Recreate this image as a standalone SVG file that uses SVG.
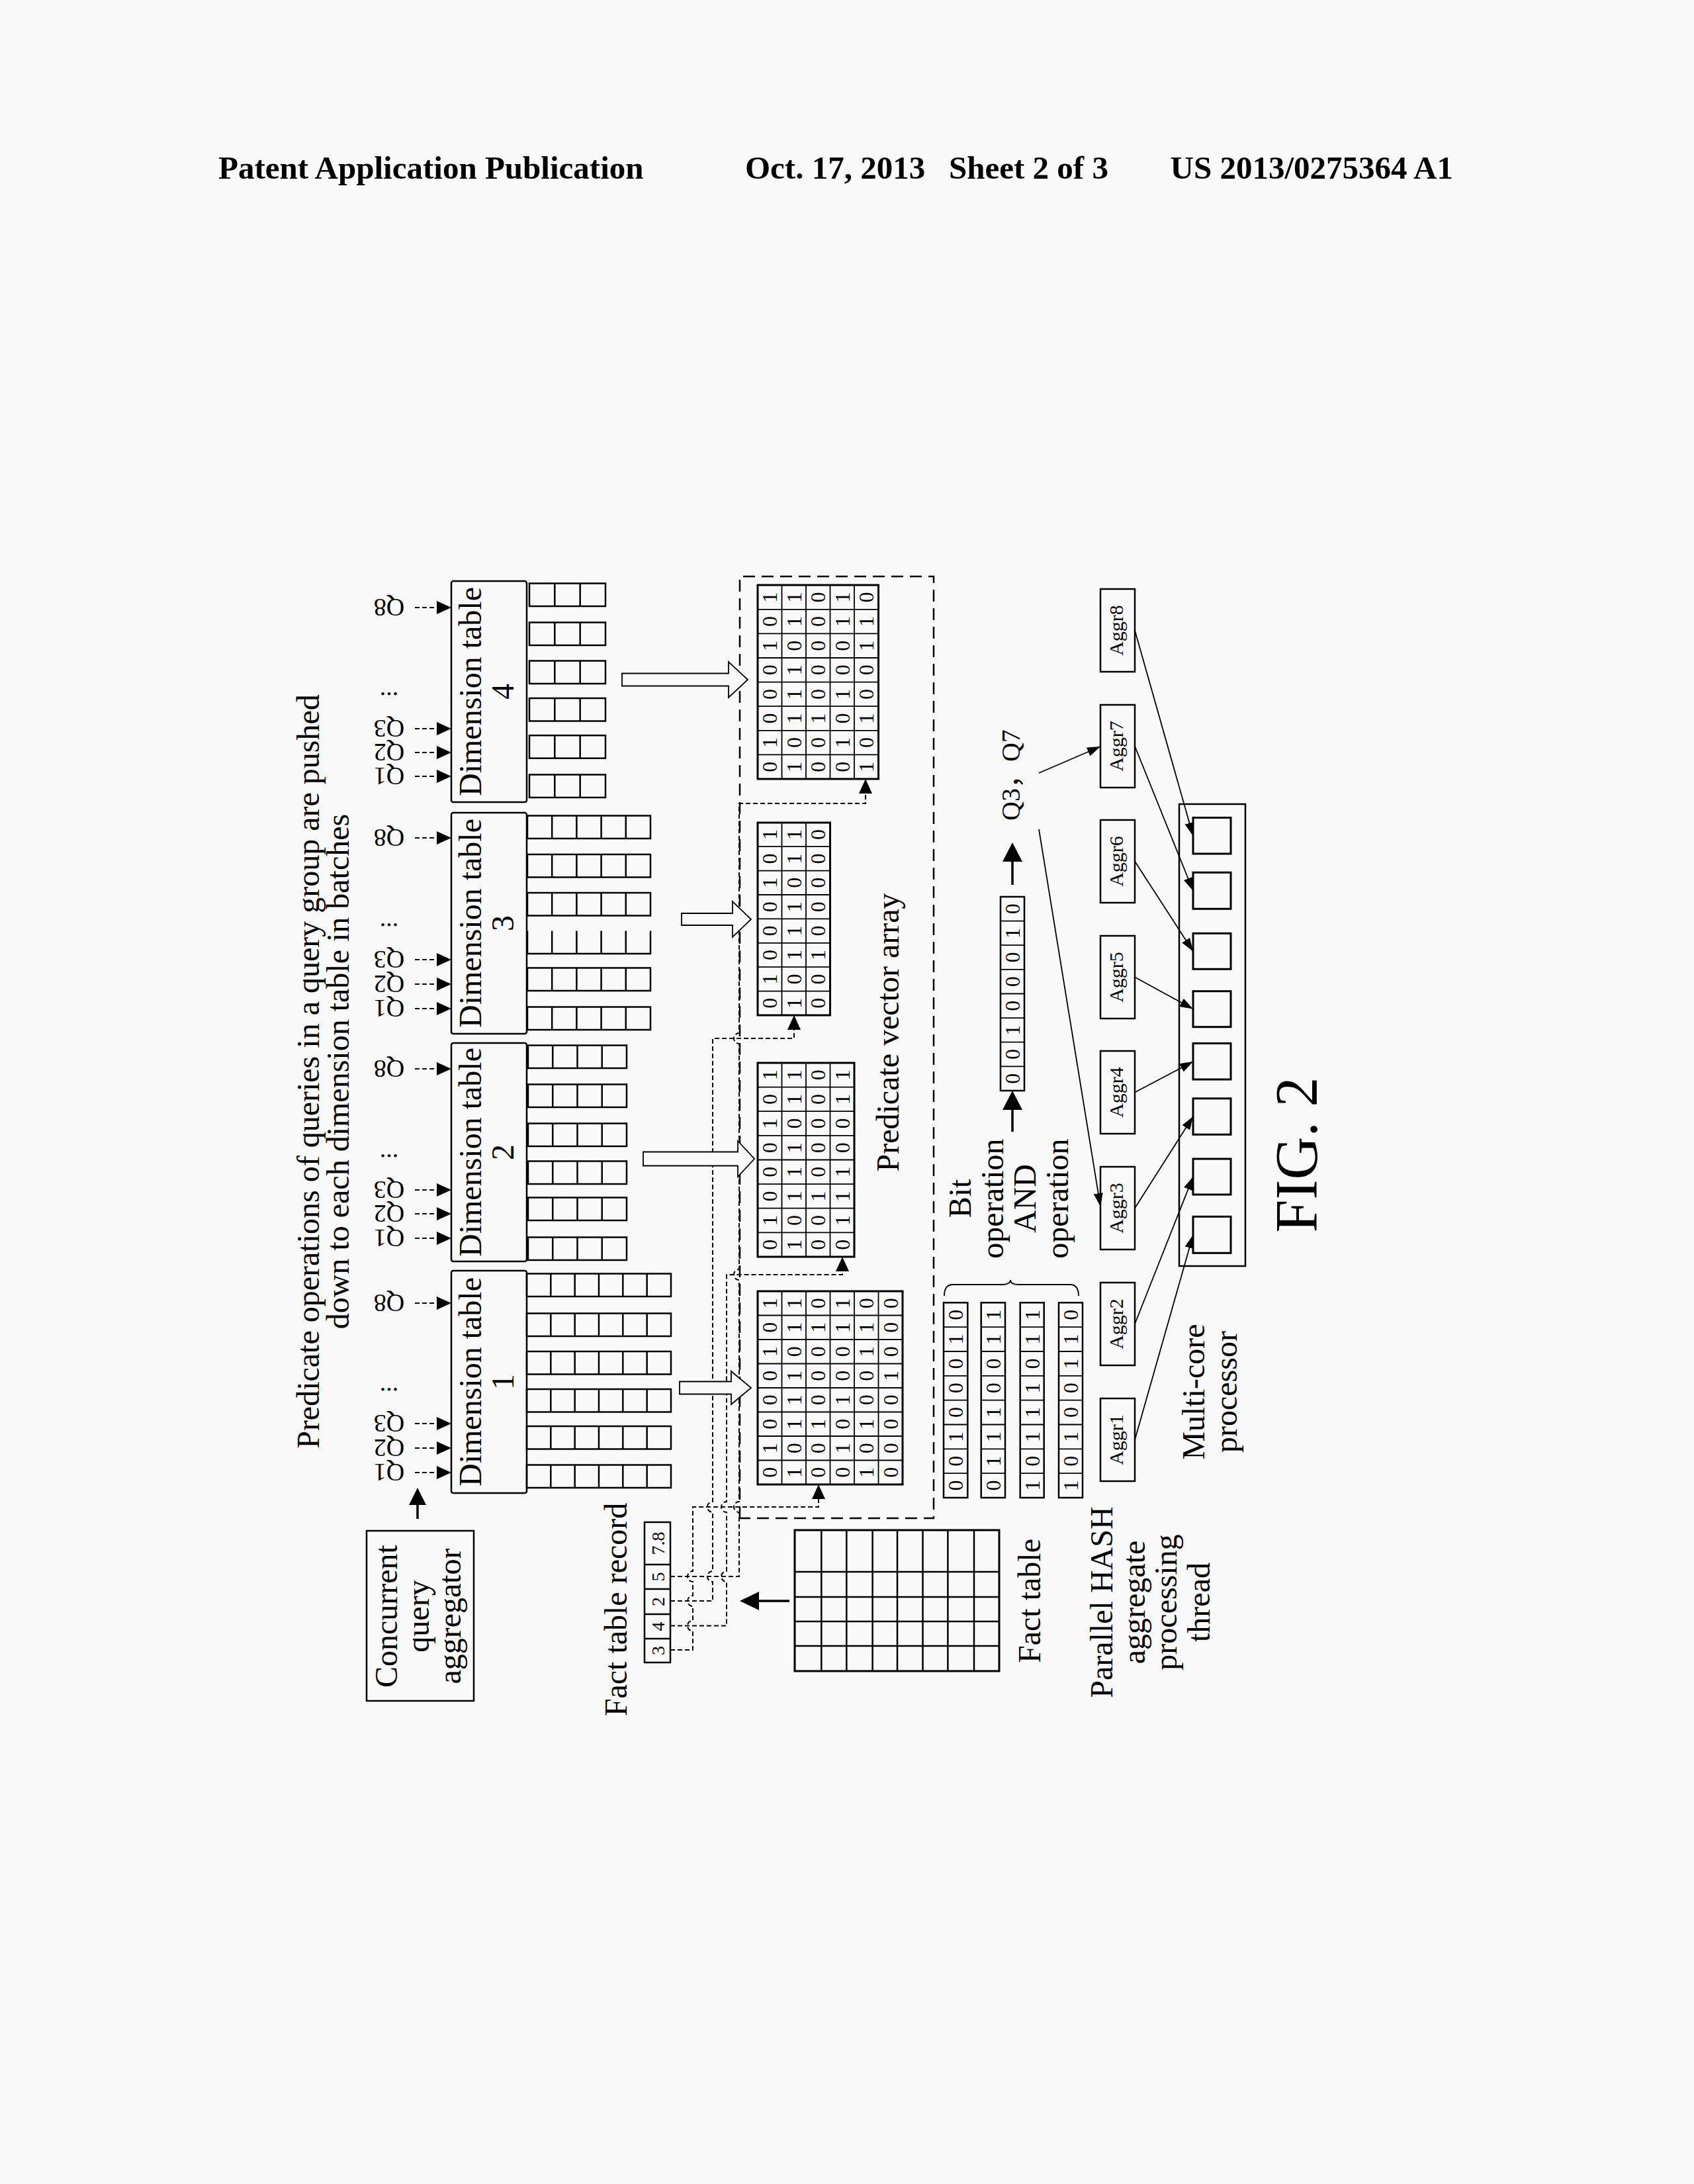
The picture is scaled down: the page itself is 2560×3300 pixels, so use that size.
<svg xmlns="http://www.w3.org/2000/svg" width="2560" height="3300" viewBox="0 0 2560 3300">
<style>
.t{font-family:"Liberation Serif","Times New Roman",serif;fill:#000}
.f48{font-size:48px}
.mid{text-anchor:middle}
.dg{font-size:32px;text-anchor:middle}
.ag{font-size:30px;text-anchor:middle}
.q{font-size:38px;text-anchor:middle}
.rc{font-size:28px;text-anchor:middle}
.b{fill:none;stroke:#000;stroke-width:2.5}
.bx{fill:none;stroke:#000;stroke-width:3}
.in{fill:none;stroke:#000;stroke-width:1.8}
.th{fill:none;stroke:#000;stroke-width:1.8}
.cd{fill:none;stroke:#000;stroke-width:2;stroke-dasharray:7 4}
.pd{fill:none;stroke:#000;stroke-width:2.5;stroke-dasharray:18 10}
.ha{fill:#f9f9f9;stroke:#000;stroke-width:1.8}
.sa{fill:none;stroke:#000;stroke-width:3.5}
.hd{font-family:"Liberation Serif","Times New Roman",serif;font-weight:bold;font-size:49px;fill:#000}
</style>
<defs>
<marker id="ah" viewBox="0 0 20 14" refX="20" refY="7" markerWidth="20" markerHeight="14" markerUnits="userSpaceOnUse" orient="auto"><path d="M0,0L20,7L0,14z" fill="#000"/></marker>
<marker id="aq" viewBox="0 0 22 20" refX="22" refY="10" markerWidth="22" markerHeight="20" markerUnits="userSpaceOnUse" orient="auto"><path d="M0,0L22,10L0,20z" fill="#000"/></marker>
<g id="s6"><rect class="b" x="0" y="0" width="34.5" height="218"/><path class="b" d="M0,36.33h34.5M0,72.67h34.5M0,109h34.5M0,145.33h34.5M0,181.67h34.5"/></g>
<g id="s4"><rect class="b" x="0" y="0" width="34.5" height="149"/><path class="b" d="M0,37.25h34.5M0,74.5h34.5M0,111.75h34.5"/></g>
<g id="s5"><rect class="b" x="0" y="0" width="34.5" height="186"/><path class="b" d="M0,37.2h34.5M0,74.4h34.5M0,111.6h34.5M0,148.8h34.5"/></g>
<g id="s3"><rect class="b" x="0" y="0" width="34.5" height="115"/><path class="b" d="M0,38.33h34.5M0,76.67h34.5"/></g>
</defs>
<rect width="2560" height="3300" fill="#f9f9f9"/>
<g id="header" class="hd">
<text x="330" y="270">Patent Application Publication</text>
<text x="1126" y="270">Oct. 17, 2013</text>
<text x="1434" y="270">Sheet 2 of 3</text>
<text x="2196" y="270" text-anchor="end">US 2013/0275364 A1</text>
</g>
<g id="figure" transform="translate(0,3300) rotate(-90)">
<g id="title" class="t f48 mid">
<text x="1681" y="482">Predicate operations of queries in a query group are pushed</text>
<text x="1681" y="527">down to each dimension table in batches</text>
</g>
<g id="aggregator">
<rect class="b" x="730" y="554" width="257" height="162"/>
<g class="t f48 mid"><text x="858" y="600">Concurrent</text><text x="858" y="648">query</text><text x="858" y="696">aggregator</text></g>
</g>
<g id="dim1">
<rect class="b" x="1044" y="682" width="336" height="114" rx="3"/>
<g class="t f48 mid"><text x="1212" y="727">Dimension table</text><text x="1212" y="776">1</text></g>
<g class="t q"><text transform="translate(1088,588) rotate(-90)">Q1</text><text transform="translate(1125,588) rotate(-90)">Q2</text><text transform="translate(1162,588) rotate(-90)">Q3</text><text transform="translate(1203,588) rotate(-90)">...</text><text transform="translate(1344,588) rotate(-90)">Q8</text></g>
<use href="#s6" x="1052" y="796"/><use href="#s6" x="1110.5" y="796"/><use href="#s6" x="1166.5" y="796"/><use href="#s6" x="1223.5" y="796"/><use href="#s6" x="1281" y="796"/><use href="#s6" x="1341" y="796"/>
</g>
<g id="dim2">
<rect class="b" x="1394" y="682" width="330" height="114" rx="3"/>
<g class="t f48 mid"><text x="1559" y="727">Dimension table</text><text x="1559" y="776">2</text></g>
<g class="t q"><text transform="translate(1442,588) rotate(-90)">Q1</text><text transform="translate(1479,588) rotate(-90)">Q2</text><text transform="translate(1515,588) rotate(-90)">Q3</text><text transform="translate(1556,588) rotate(-90)">...</text><text transform="translate(1698,588) rotate(-90)">Q8</text></g>
<use href="#s4" x="1396" y="798"/><use href="#s4" x="1456" y="798"/><use href="#s4" x="1511" y="798"/><use href="#s4" x="1568" y="798"/><use href="#s4" x="1627" y="798"/><use href="#s4" x="1686" y="798"/>
</g>
<g id="dim3">
<rect class="b" x="1738" y="682" width="334" height="114" rx="3"/>
<g class="t f48 mid"><text x="1905" y="727">Dimension table</text><text x="1905" y="776">3</text></g>
<g class="t q"><text transform="translate(1789,588) rotate(-90)">Q1</text><text transform="translate(1826,588) rotate(-90)">Q2</text><text transform="translate(1863,588) rotate(-90)">Q3</text><text transform="translate(1905,588) rotate(-90)">...</text><text transform="translate(2047,588) rotate(-90)">Q8</text></g>
<use href="#s5" x="1744" y="797"/><use href="#s5" x="1803" y="797"/>
<path class="b" d="M1893.5,797H1859V983H1893.5M1859,834.2h34.5M1859,871.4h34.5M1859,908.6h34.5M1859,945.8h34.5"/>
<use href="#s5" x="1916.5" y="797"/><use href="#s5" x="1974.5" y="797"/><use href="#s5" x="2033" y="797"/>
</g>
<g id="dim4">
<rect class="b" x="2088" y="682" width="334" height="114" rx="3"/>
<g class="t f48 mid"><text x="2255" y="727">Dimension table</text><text x="2255" y="776">4</text></g>
<g class="t q"><text transform="translate(2140,588) rotate(-90)">Q1</text><text transform="translate(2176,588) rotate(-90)">Q2</text><text transform="translate(2212,588) rotate(-90)">Q3</text><text transform="translate(2254,588) rotate(-90)">...</text><text transform="translate(2395,588) rotate(-90)">Q8</text></g>
<use href="#s3" x="2095" y="800"/><use href="#s3" x="2154.3" y="800"/><use href="#s3" x="2210.5" y="800"/><use href="#s3" x="2267" y="800"/><use href="#s3" x="2325" y="800"/><use href="#s3" x="2384" y="800"/>
</g>
<g id="predicate-array">
<rect class="pd" x="1006" y="1118" width="1423" height="293"/>
<text class="t f48 mid" x="1740" y="1358">Predicate vector array</text>
<g id="pv1">
<rect class="bx" x="1057" y="1145" width="292" height="219"/>
<path class="in" d="M1093.5,1145V1364M1130,1145V1364M1166.5,1145V1364M1203,1145V1364M1239.5,1145V1364M1276,1145V1364M1312.5,1145V1364M1057,1181.5H1349M1057,1218H1349M1057,1254.5H1349M1057,1291H1349M1057,1327.5H1349"/>
<g class="t dg">
<text x="1075.25 1111.75 1148.25 1184.75 1221.25 1257.75 1294.25 1330.75" y="1174.25">01000101</text>
<text x="1075.25 1111.75 1148.25 1184.75 1221.25 1257.75 1294.25 1330.75" y="1210.75">10111011</text>
<text x="1075.25 1111.75 1148.25 1184.75 1221.25 1257.75 1294.25 1330.75" y="1247.25">00100010</text>
<text x="1075.25 1111.75 1148.25 1184.75 1221.25 1257.75 1294.25 1330.75" y="1283.75">01010011</text>
<text x="1075.25 1111.75 1148.25 1184.75 1221.25 1257.75 1294.25 1330.75" y="1320.25">10100110</text>
<text x="1075.25 1111.75 1148.25 1184.75 1221.25 1257.75 1294.25 1330.75" y="1356.75">00001000</text>
</g>
</g>
<g id="pv2">
<rect class="bx" x="1401" y="1145" width="293" height="146"/>
<path class="in" d="M1437.6,1145V1291M1474.3,1145V1291M1510.9,1145V1291M1547.5,1145V1291M1584.1,1145V1291M1620.8,1145V1291M1657.4,1145V1291M1401,1181.5H1694M1401,1218H1694M1401,1254.5H1694"/>
<g class="t dg">
<text x="1419.3 1455.9 1492.6 1529.2 1565.8 1602.4 1639.1 1675.7" y="1174.25">01000101</text>
<text x="1419.3 1455.9 1492.6 1529.2 1565.8 1602.4 1639.1 1675.7" y="1210.75">10111011</text>
<text x="1419.3 1455.9 1492.6 1529.2 1565.8 1602.4 1639.1 1675.7" y="1247.25">00100000</text>
<text x="1419.3 1455.9 1492.6 1529.2 1565.8 1602.4 1639.1 1675.7" y="1283.75">01110011</text>
</g>
</g>
<g id="pv3">
<rect class="bx" x="1766" y="1145" width="291" height="109.5"/>
<path class="in" d="M1802.4,1145V1254.5M1838.8,1145V1254.5M1875.2,1145V1254.5M1911.6,1145V1254.5M1948,1145V1254.5M1984.4,1145V1254.5M2020.8,1145V1254.5M1766,1181.5H2057M1766,1218H2057"/>
<g class="t dg">
<text x="1784.2 1820.6 1857 1893.4 1929.8 1966.2 2002.6 2039" y="1174.25">01000101</text>
<text x="1784.2 1820.6 1857 1893.4 1929.8 1966.2 2002.6 2039" y="1210.75">10111011</text>
<text x="1784.2 1820.6 1857 1893.4 1929.8 1966.2 2002.6 2039" y="1247.25">00100000</text>
</g>
</g>
<g id="pv4">
<rect class="bx" x="2123" y="1145" width="293" height="182.5"/>
<path class="in" d="M2159.6,1145V1327.5M2196.2,1145V1327.5M2232.8,1145V1327.5M2269.4,1145V1327.5M2306,1145V1327.5M2342.6,1145V1327.5M2379.2,1145V1327.5M2123,1181.5H2416M2123,1218H2416M2123,1254.5H2416M2123,1291H2416"/>
<g class="t dg">
<text x="2141.3 2177.9 2214.5 2251.1 2287.7 2324.3 2360.9 2397.5" y="1174.25">01000101</text>
<text x="2141.3 2177.9 2214.5 2251.1 2287.7 2324.3 2360.9 2397.5" y="1210.75">10111011</text>
<text x="2141.3 2177.9 2214.5 2251.1 2287.7 2324.3 2360.9 2397.5" y="1247.25">00100000</text>
<text x="2141.3 2177.9 2214.5 2251.1 2287.7 2324.3 2360.9 2397.5" y="1283.75">01010011</text>
<text x="2141.3 2177.9 2214.5 2251.1 2287.7 2324.3 2360.9 2397.5" y="1320.25">10100110</text>
</g>
</g>
</g>
<g id="fact-record">
<rect class="b" x="788" y="974" width="212" height="39"/>
<path class="b" d="M824,974V1013M861,974V1013M899,974V1013M936,974V1013"/>
<g class="t rc"><text x="806" y="1003.5">3</text><text x="842.5" y="1003.5">4</text><text x="880" y="1003.5">2</text><text x="917.5" y="1003.5">5</text><text x="968" y="1003.5">7.8</text></g>
<text class="t f48 mid" x="868" y="947">Fact table record</text>
</g>
<g id="fact-table">
<rect class="bx" x="775" y="1201" width="213" height="309"/>
<path class="b" d="M813,1201V1510M850,1201V1510M887,1201V1510M925,1201V1510M775,1241.3H988M775,1279.3H988M775,1318.6H988M775,1356H988M775,1394.5H988M775,1432.4H988M775,1472H988"/>
<text class="t f48 mid" x="881" y="1572">Fact table</text>
</g>
<g id="bit-operation">
<rect class="b" x="1037" y="1426" width="294.7" height="36.3"/>
<rect class="b" x="1037" y="1482.7" width="294.7" height="36.3"/>
<rect class="b" x="1037" y="1541.7" width="294.7" height="36"/>
<rect class="b" x="1037" y="1600" width="294.7" height="36"/>
<path class="in" d="M1073.8,1426V1462.3M1110.7,1426V1462.3M1147.5,1426V1462.3M1184.4,1426V1462.3M1221.2,1426V1462.3M1258,1426V1462.3M1294.9,1426V1462.3M1073.8,1482.7V1519M1110.7,1482.7V1519M1147.5,1482.7V1519M1184.4,1482.7V1519M1221.2,1482.7V1519M1258,1482.7V1519M1294.9,1482.7V1519M1073.8,1541.7V1577.7M1110.7,1541.7V1577.7M1147.5,1541.7V1577.7M1184.4,1541.7V1577.7M1221.2,1541.7V1577.7M1258,1541.7V1577.7M1294.9,1541.7V1577.7M1073.8,1600V1636M1110.7,1600V1636M1147.5,1600V1636M1184.4,1600V1636M1221.2,1600V1636M1258,1600V1636M1294.9,1600V1636"/>
<g class="t dg">
<text x="1055.4 1092.3 1129.1 1166 1202.8 1239.6 1276.5 1313.3" y="1455">00100010</text>
<text x="1055.4 1092.3 1129.1 1166 1202.8 1239.6 1276.5 1313.3" y="1512">01110011</text>
<text x="1055.4 1092.3 1129.1 1166 1202.8 1239.6 1276.5 1313.3" y="1570.7">10111011</text>
<text x="1055.4 1092.3 1129.1 1166 1202.8 1239.6 1276.5 1313.3" y="1629">10100110</text>
</g>
<path class="th" stroke-width="2" d="M1342,1427Q1359,1427 1359,1440L1359,1514Q1359,1527 1366,1527Q1359,1527 1359,1540L1359,1617Q1359,1630 1342,1630"/>
<g class="t f48 mid"><text x="1489" y="1467">Bit</text><text x="1489" y="1516">operation</text><text x="1489" y="1565">AND</text><text x="1489" y="1614">operation</text></g>
</g>
<g id="result">
<rect class="b" x="1652" y="1512" width="293" height="36"/>
<path class="in" d="M1688.6,1512V1548M1725.3,1512V1548M1761.9,1512V1548M1798.5,1512V1548M1835.1,1512V1548M1871.8,1512V1548M1908.4,1512V1548"/>
<text class="t dg" x="1670.3 1706.9 1743.6 1780.2 1816.8 1853.4 1890.1 1926.7" y="1541">00100010</text>
<text class="t" font-size="40" x="2060" y="1541" style="font-family:'Liberation Serif','Noto Sans CJK SC',serif">Q3，Q7</text>
</g>
<g id="aggr1"><rect class="b" x="1062" y="1663" width="125" height="52"/><text class="t ag" x="1124.5" y="1697">Aggr1</text></g>
<g id="aggr2"><rect class="b" x="1237" y="1663" width="125" height="52"/><text class="t ag" x="1299.5" y="1697">Aggr2</text></g>
<g id="aggr3"><rect class="b" x="1412" y="1663" width="125" height="52"/><text class="t ag" x="1474.5" y="1697">Aggr3</text></g>
<g id="aggr4"><rect class="b" x="1587" y="1663" width="125" height="52"/><text class="t ag" x="1649.5" y="1697">Aggr4</text></g>
<g id="aggr5"><rect class="b" x="1761" y="1663" width="125" height="52"/><text class="t ag" x="1823.5" y="1697">Aggr5</text></g>
<g id="aggr6"><rect class="b" x="1936" y="1663" width="125" height="52"/><text class="t ag" x="1998.5" y="1697">Aggr6</text></g>
<g id="aggr7"><rect class="b" x="2110" y="1663" width="125" height="52"/><text class="t ag" x="2172.5" y="1697">Aggr7</text></g>
<g id="aggr8"><rect class="b" x="2285" y="1663" width="125" height="52"/><text class="t ag" x="2347.5" y="1697">Aggr8</text></g>
<text id="hash-label" class="t f48 mid"><tspan x="879" y="1681">Parallel HASH</tspan><tspan x="879" y="1730">aggregate</tspan><tspan x="879" y="1778">processing</tspan><tspan x="879" y="1828">thread</tspan></text>
<g id="multicore">
<rect class="b" x="1387" y="1782" width="698" height="100"/>
<g class="bx"><rect x="1406.7" y="1803" width="55" height="57"/><rect x="1495" y="1803" width="54" height="57"/><rect x="1585.7" y="1803" width="54.5" height="57"/><rect x="1669" y="1803" width="54.5" height="57"/><rect x="1748.3" y="1803" width="54" height="57"/><rect x="1835.7" y="1803" width="54" height="57"/><rect x="1926.7" y="1803" width="55" height="57"/><rect x="2010" y="1803" width="54.5" height="57"/></g>
<g class="t f48 mid"><text x="1197" y="1820">Multi-core</text><text x="1197" y="1869">processor</text></g>
</g>
<text id="fig-label" class="t mid" font-size="90" x="1555" y="1990">FIG. 2</text>
<g id="connectors">
<path class="sa" d="M1005,631H1030"/><path d="M1052,631L1026,618L1026,644z"/>
<g class="cd">
<path d="M1075,627V682" marker-end="url(#aq)"/><path d="M1112,627V682" marker-end="url(#aq)"/><path d="M1149,627V682" marker-end="url(#aq)"/><path d="M1331,627V682" marker-end="url(#aq)"/>
<path d="M1429,627V682" marker-end="url(#aq)"/><path d="M1466,627V682" marker-end="url(#aq)"/><path d="M1502,627V682" marker-end="url(#aq)"/><path d="M1685,627V682" marker-end="url(#aq)"/>
<path d="M1776,627V682" marker-end="url(#aq)"/><path d="M1813,627V682" marker-end="url(#aq)"/><path d="M1850,627V682" marker-end="url(#aq)"/><path d="M2034,627V682" marker-end="url(#aq)"/>
<path d="M2127,627V682" marker-end="url(#aq)"/><path d="M2163,627V682" marker-end="url(#aq)"/><path d="M2199,627V682" marker-end="url(#aq)"/><path d="M2382,627V682" marker-end="url(#aq)"/>
<path d="M807,1013V1047H835.5A8,8 0 0 1 851.5,1047H873A8,8 0 0 1 889,1047H910A8,8 0 0 1 926,1047H1023V1237H1057" marker-end="url(#aq)"/>
<path d="M843.5,1013V1098H910A8,8 0 0 1 926,1098H1015A8,8 0 0 1 1031,1098H1374V1273H1401" marker-end="url(#aq)"/>
<path d="M881,1013V1077H910A8,8 0 0 1 926,1077H1015A8,8 0 0 1 1031,1077H1731V1200H1766" marker-end="url(#aq)"/>
<path d="M918,1013V1117H1015A8,8 0 0 1 1031,1117H1366A8,8 0 0 1 1382,1117H1723A8,8 0 0 1 1739,1117H2086V1308H2123" marker-end="url(#aq)"/>
</g>
<polygon class="ha" points="1193.5,1027 1212.5,1027 1212.5,1105 1228,1105 1203,1135 1178,1105 1193.5,1105"/>
<polygon class="ha" points="1538.5,972 1559.5,972 1559.5,1115 1576,1115 1549,1140 1522,1115 1538.5,1115"/>
<polygon class="ha" points="1902,1030 1920,1030 1920,1107 1938,1107 1911,1135 1884,1107 1902,1107"/>
<polygon class="ha" points="2263.5,940 2282.5,940 2282.5,1101 2300,1101 2273,1130 2246,1101 2263.5,1101"/>
<path class="sa" d="M881,1193V1145"/><path d="M881,1118L867,1147L895,1147z"/>
<path class="sa" d="M1590,1530H1625"/><path d="M1652,1530L1623,1515L1623,1545z"/>
<path class="sa" d="M1963,1530H2000"/><path d="M2027,1530L1998,1515L1998,1545z"/>
<g class="th" marker-end="url(#ah)">
<path d="M2047,1570L1477,1663"/>
<path d="M2132,1570L2172,1663"/>
<path d="M1124.5,1715L1434,1803"/>
<path d="M1299.5,1715L1522,1803"/>
<path d="M1474.5,1715L1613,1803"/>
<path d="M1649.5,1715L1696,1803"/>
<path d="M1823.5,1715L1775.5,1803"/>
<path d="M1998.5,1715L1862.5,1803"/>
<path d="M2172.5,1715L1954,1803"/>
<path d="M2347.5,1715L2037,1803"/>
</g>
</g>
</g>
</svg>
